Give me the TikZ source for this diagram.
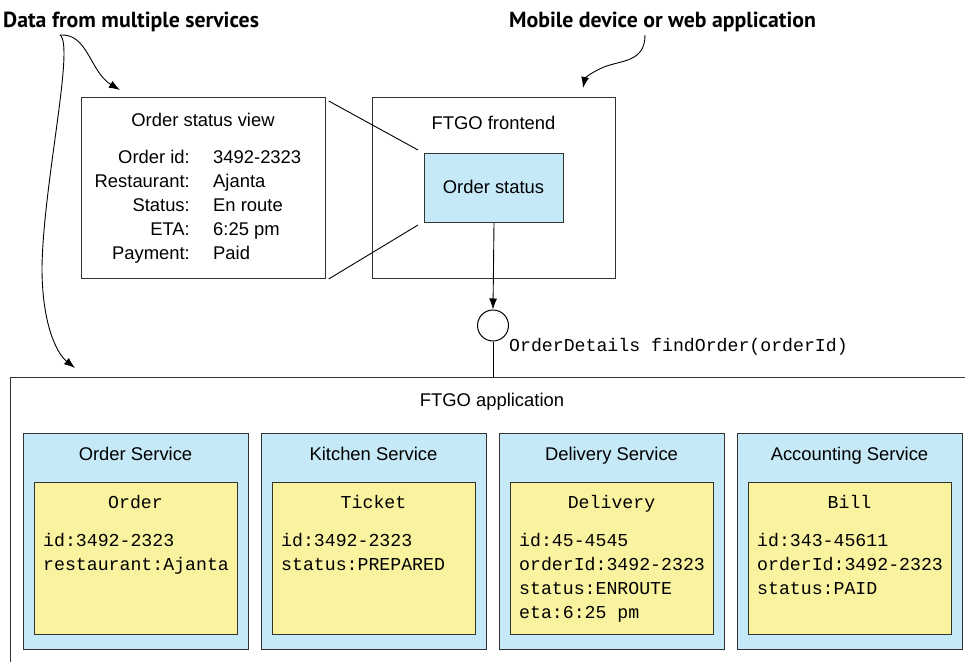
\documentclass[tikz,border=0pt]{standalone}
\usepackage{fontspec}
\setmainfont{Liberation Sans}
\setmonofont{Liberation Mono}
\newfontfamily\calloutfont{PT Sans}
\usetikzlibrary{arrows.meta}
\definecolor{svcblue}{HTML}{C6E9F8}
\definecolor{entyellow}{HTML}{F9F3A0}
\definecolor{edgegray}{HTML}{333333}
\tikzset{
  frame/.style={draw=edgegray, line width=1pt, rectangle, inner sep=0pt, anchor=north west},
  svcbox/.style={frame, fill=svcblue, minimum width=225, minimum height=216},
  entbox/.style={frame, fill=entyellow, minimum width=203, minimum height=152},
  sans/.style={font=\fontsize{18.4}{22}\selectfont, inner sep=0pt},
  mono/.style={font=\ttfamily\fontsize{18.2}{22}\selectfont, inner sep=0pt},
  callout/.style={font=\calloutfont\bfseries\fontsize{21.8}{24}\selectfont, inner sep=0pt, anchor=base west},
  tip/.style={-{Latex[length=11pt,width=8pt]}, line width=0.9pt},
  conn/.style={line width=0.9pt}
}
\begin{document}
\begin{tikzpicture}[x=1pt,y=-1pt]
\useasboundingbox (0,0) rectangle (965,661);
\clip (0,0) rectangle (965,661);

% callout labels
\node[callout] (datalbl) at (3,27.5) {Data from multiple services};
\node[callout] (moblbl) at (509,27.5) {Mobile device or web application};
\coordinate (dataorigin) at (60,35);
\coordinate (mobstart) at (645,35);

% order status view
\node[frame, minimum width=244, minimum height=181] (view) at (80.7,97) {};
\node[sans, anchor=base] (viewtitle) at (203,126) {Order status view};
\node[sans, anchor=base east] (k1) at (190,163.3) {Order id:};
\node[sans, anchor=base east] (k2) at (190,187.3) {Restaurant:};
\node[sans, anchor=base east] (k3) at (190,211.3) {Status:};
\node[sans, anchor=base east] (k4) at (190,235.3) {ETA:};
\node[sans, anchor=base east] (k5) at (190,259) {Payment:};
\node[sans, anchor=base west] (v1) at (213,163.3) {3492-2323};
\node[sans, anchor=base west] (v2) at (213,187.3) {Ajanta};
\node[sans, anchor=base west] (v3) at (213,211.3) {En route};
\node[sans, anchor=base west] (v4) at (213,235.3) {6:25 pm};
\node[sans, anchor=base west] (v5) at (213,259) {Paid};

% frontend
\node[frame, minimum width=243, minimum height=181] (front) at (372,97) {};
\node[sans, anchor=base] (fronttitle) at (493.5,129) {FTGO frontend};
\node[frame, fill=svcblue, minimum width=139, minimum height=69] (os) at (424,153) {};
\node[sans, anchor=base] (ostext) at (493.5,193.3) {Order status};

% zoom lines
\draw[conn] ([shift={(3,4)}]view.north east) -- ([shift={(-6,-3)}]os.north west);
\draw[conn] ([shift={(3,0)}]view.south east) -- ([shift={(-6,2)}]os.south west);

% interface
\node[circle, draw, line width=1pt, minimum size=31, inner sep=0pt] (circ) at (493,325.5) {};
\node[mono, anchor=base west] (api) at (509,351.7) {OrderDetails findOrder(orderId)};

% application
\node[frame, minimum width=1000, minimum height=400] (app) at (10,377) {};
\node[sans, anchor=base] (apptitle) at (492,406) {FTGO application};

\draw[tip] (os.south) -- (circ.north);
\draw[conn] (circ.south) -- (circ.south |- app.north);

% services
\foreach \nm/\lx/\svc/\ent/\la/\lb/\lc/\ld in {
  ord/23/Order Service/Order/id:3492-2323/restaurant:Ajanta//,
  kit/261/Kitchen Service/Ticket/id:3492-2323/status:PREPARED//,
  del/499/Delivery Service/Delivery/id:45-4545/orderId:3492-2323/status:ENROUTE/eta:6:25 pm,
  acc/737/Accounting Service/Bill/id:343-45611/orderId:3492-2323/status:PAID/}{
  \node[svcbox] (\nm) at (\lx,433) {};
  \node[sans, anchor=base] (\nm title) at (\lx+112.5,460) {\svc};
  \node[entbox] (\nm ent) at (\lx+11,482) {};
  \node[mono, anchor=base] (\nm name) at (\lx+112.5,508.3) {\ent};
  \node[mono, anchor=base west] (\nm l1) at (\lx+20,546.7) {\la};
  \node[mono, anchor=base west] (\nm l2) at (\lx+20,570.7) {\lb};
  \node[mono, anchor=base west] (\nm l3) at (\lx+20,594.7) {\lc};
  \node[mono, anchor=base west] (\nm l4) at (\lx+20,618.7) {\ld};
}

% callout arrows
\coordinate (viewtip) at (120,90);
\coordinate (apptip) at (75,368);
\coordinate (fronttip) at (583,88);
\draw[tip] (dataorigin) .. controls (88,33) and (90,72) .. (viewtip);
\draw[tip] (dataorigin) .. controls (75,45) and (43,185) .. (42,268) .. controls (42,320) and (55,352) .. (apptip);
\draw[tip] (mobstart) .. controls (645,62) and (622,60) .. (604,67) .. controls (592,72) and (585,78) .. (fronttip);
\end{tikzpicture}
\end{document}
